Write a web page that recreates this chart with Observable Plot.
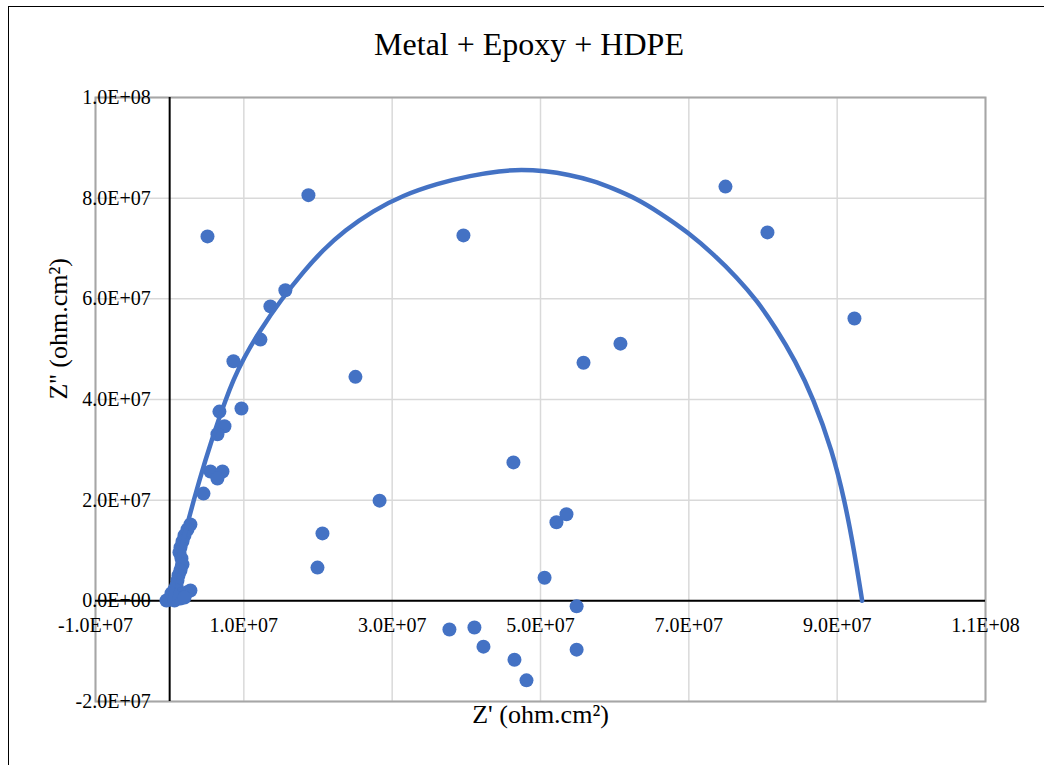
<!DOCTYPE html>
<html><head><meta charset="utf-8">
<script src="https://cdn.jsdelivr.net/npm/d3@7"></script>
<script src="https://cdn.jsdelivr.net/npm/@observablehq/plot@0.6"></script>
<style>
body{margin:0;background:#fff;overflow:hidden;}
#wrap{position:relative;width:1044px;height:765px;overflow:hidden;background:#fff;}
#border{position:absolute;left:8px;top:6px;width:1100px;height:800px;border:1.5px solid #000;box-sizing:border-box;}
#title{position:absolute;left:0;top:28px;width:1058px;text-align:center;font-family:"Liberation Serif","Times New Roman",serif;font-size:32px;line-height:32px;color:#000;z-index:2;}
#chart{position:absolute;left:0;top:0;z-index:1;}
</style></head>
<body><div id="wrap"><div id="border"></div><div id="title">Metal + Epoxy + HDPE</div><div id="chart"></div></div>
<script>
// Z' (real) and Z'' (imaginary) measured points, ohm.cm²
const zReal = [
  5.10e6, 1.871e7, 3.961e7, 7.494e7, 8.060e7, 9.233e7, 1.560e7, 1.358e7, 1.224e7, 8.60e6,
  2.505e7, 6.078e7, 5.580e7, 9.68e6, 6.71e6, 7.39e6, 6.44e6, 5.50e6, 7.12e6, 6.44e6,
  4.56e6, 4.635e7, 2.830e7, 2.060e7, 1.993e7, 5.215e7, 5.350e7, 5.055e7, 5.487e7, 3.772e7,
  4.109e7, 4.231e7, 4.649e7, 4.811e7, 5.487e7,
  2.80e6, 2.40e6, 2.00e6, 1.73e6, 1.46e6, 1.32e6, 1.59e6, 1.73e6, 1.46e6, 1.19e6,
  1.05e6, 9.2e5, 6.5e5, 2.80e6, 2.27e6, 1.59e6, 1.05e6, 3.8e5, -3e4, -4.3e5,
  6.5e5, 1.46e6, 2.00e6, 2.4e5
];
const zImag = [
  7.24e7, 8.06e7, 7.26e7, 8.23e7, 7.32e7, 5.61e7, 6.17e7, 5.85e7, 5.19e7, 4.76e7,
  4.45e7, 5.11e7, 4.73e7, 3.82e7, 3.76e7, 3.47e7, 3.31e7, 2.57e7, 2.57e7, 2.43e7,
  2.13e7, 2.75e7, 1.99e7, 1.34e7, 6.6e6, 1.56e7, 1.72e7, 4.6e6, -1.1e6, -5.7e6,
  -5.3e6, -9.1e6, -1.17e7, -1.58e7, -9.7e6,
  1.516e7, 1.417e7, 1.297e7, 1.178e7, 1.059e7, 9.60e6, 8.40e6, 7.21e6, 6.02e6, 5.03e6,
  4.03e6, 3.04e6, 2.25e6, 2.05e6, 1.65e6, 1.25e6, 8.5e5, 8.5e5, 2.6e5, 6e4,
  6e4, 4.6e5, 6.6e5, 1.45e6
];
// Trend curve
const fitReal = [
  0, 5.53e5, 1.16e6, 1.81e6, 2.51e6, 3.24e6, 4.00e6, 4.81e6, 5.66e6, 6.57e6,
  7.52e6, 8.55e6, 9.95e6, 1.217e7, 1.494e7, 1.817e7, 2.060e7, 2.357e7, 2.748e7, 3.139e7,
  3.611e7, 4.056e7, 4.462e7, 4.730e7, 5.067e7, 5.377e7, 5.701e7, 5.984e7, 6.294e7, 6.604e7,
  6.995e7, 7.352e7, 7.649e7, 7.918e7, 8.168e7, 8.435e7, 8.680e7, 8.932e7, 9.101e7, 9.229e7,
  9.337e7
];
const fitImag = [
  0, 4.03e6, 8.01e6, 1.198e7, 1.595e7, 1.993e7, 2.390e7, 2.788e7, 3.185e7, 3.583e7,
  3.980e7, 4.377e7, 4.814e7, 5.371e7, 5.967e7, 6.563e7, 6.960e7, 7.358e7, 7.755e7, 8.053e7,
  8.291e7, 8.450e7, 8.540e7, 8.569e7, 8.540e7, 8.470e7, 8.351e7, 8.192e7, 7.993e7, 7.715e7,
  7.318e7, 6.861e7, 6.424e7, 5.967e7, 5.430e7, 4.774e7, 4.019e7, 2.986e7, 1.993e7, 9.99e6,
  0
];
const xTicks = [-1e7, 1e7, 3e7, 5e7, 7e7, 9e7, 1.1e8];
const xTickLabels = ["-1.0E+07", "1.0E+07", "3.0E+07", "5.0E+07", "7.0E+07", "9.0E+07", "1.1E+08"];
const yTicks = [-2e7, 0, 2e7, 4e7, 6e7, 8e7, 1e8];
const yTickLabels = ["-2.0E+07", "0.0E+00", "2.0E+07", "4.0E+07", "6.0E+07", "8.0E+07", "1.0E+08"];
const xTitle = "Z' (ohm.cm²)";
const yTitle = "Z'' (ohm.cm²)";
const blue = "#4472C4";

const pts = zReal.map((x, i) => ({x, y: zImag[i]}));
const fit = fitReal.map((x, i) => ({x, y: fitImag[i]}));
const xt = xTicks.map((v, i) => ({v, label: xTickLabels[i]}));
const yt = yTicks.map((v, i) => ({v, label: yTickLabels[i]}));

const chart = Plot.plot({
  width: 1044, height: 765,
  marginLeft: 95, marginRight: 59, marginTop: 97, marginBottom: 64,
  x: {domain: [-1e7, 1.1e8], axis: null},
  y: {domain: [-2e7, 1e8], axis: null},
  style: {fontFamily: '"Liberation Serif","Times New Roman",serif', background: "transparent", overflow: "visible", color: "#000"},
  marks: [
    Plot.ruleX(xTicks, {stroke: "#d9d9d9", strokeWidth: 1.5}),
    Plot.ruleY(yTicks, {stroke: "#d9d9d9", strokeWidth: 1.5}),
    Plot.frame({stroke: "#a6a6a6", strokeWidth: 2}),
    Plot.ruleX([0], {stroke: "#000", strokeWidth: 2}),
    Plot.ruleY([0], {stroke: "#000", strokeWidth: 2}),
    Plot.dot(pts, {x: "x", y: "y", r: 7, fill: blue, stroke: null}),
    Plot.line(fit, {x: "x", y: "y", stroke: blue, strokeWidth: 4.5, curve: "basis"}),
    Plot.text(yt, {x: 0, y: "v", text: "label", textAnchor: "end", dx: -19, fontSize: 20, fill: "#000"}),
    Plot.text(xt, {x: "v", y: 0, text: "label", dy: 25, fontSize: 20, fill: "#000"}),
    Plot.text([xTitle], {text: d => d, frameAnchor: "bottom", dy: 21, fontSize: 26, fill: "#000"}),
    Plot.text([yTitle], {text: d => d, frameAnchor: "left", dx: -37, rotate: -90, fontSize: 26, fill: "#000"})
  ]
});
document.getElementById("chart").appendChild(chart);
</script>
</body></html>
